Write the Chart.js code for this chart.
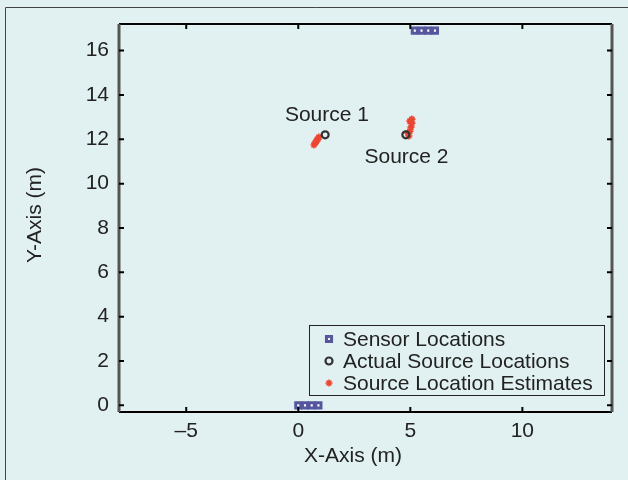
<!DOCTYPE html>
<html>
<head>
<meta charset="utf-8">
<script src="https://cdn.jsdelivr.net/npm/chart.js@4"></script>
<style>
  html, body { margin: 0; padding: 0; background: #e1f0f1; }
  #wrap { width: 628px; height: 480px; }
</style>
</head>
<body>
<div id="wrap"><canvas id="plot" width="628" height="480"></canvas></div>
<script>
// sensor array positions (m)
const sensorX = [0, 0.3, 0.6, 0.9, 5.2, 5.5, 5.8, 6.1];
const sensorY = [0, 0, 0, 0, 16.9, 16.9, 16.9, 16.9];

// true source positions
const sourceX = [1.2, 4.8];
const sourceY = [12.2, 12.2];

// estimates from the localisation runs
const estX = [0.70, 0.75, 0.79, 0.83, 0.88, 0.92, 4.89, 4.94, 4.98, 4.98, 5.03, 5.07, 5.07];
const estY = [11.74, 11.83, 11.88, 11.97, 12.01, 12.10, 12.28, 12.15, 12.37, 12.82, 12.55, 12.73, 12.91];

const xTicks = [-5, 0, 5, 10];
const yTicks = [0, 2, 4, 6, 8, 10, 12, 14, 16];

const labels = [
  { text: 'Source 1', x: 1.28, y: 13.09 },
  { text: 'Source 2', x: 4.83, y: 11.2 }
];

const FONT = '21px "Liberation Sans", Arial, sans-serif';
const INK = '#222';

const pts = (xs, ys) => xs.map((x, i) => ({ x: x, y: ys[i] }));

// axes frame, inward ticks, titles, text labels and legend, MATLAB style
const matlabFrame = {
  id: 'matlabFrame',
  beforeDraw(chart) {
    const c = chart.ctx;
    c.save();
    c.fillStyle = '#e1f0f1';
    c.fillRect(0, 0, chart.width, chart.height);
    c.strokeStyle = '#444';
    c.lineWidth = 1;
    c.beginPath();
    c.moveTo(5.5, 480); c.lineTo(5.5, 7.5); c.lineTo(628, 7.5);
    c.stroke();
    c.restore();
  },
  afterDatasetsDraw(chart) {
    const c = chart.ctx;
    const a = chart.chartArea;
    const xs = chart.scales.x, ys = chart.scales.y;
    c.save();
    // frame
    c.strokeStyle = '#000';
    c.lineWidth = 2;
    c.beginPath();
    c.moveTo(a.left, a.top); c.lineTo(a.right, a.top);
    c.moveTo(a.left, a.bottom); c.lineTo(a.right, a.bottom);
    c.stroke();
    c.strokeStyle = '#555';
    c.lineWidth = 3;
    c.beginPath();
    c.moveTo(a.left, a.top); c.lineTo(a.left, a.bottom);
    c.moveTo(a.right, a.top); c.lineTo(a.right, a.bottom);
    c.stroke();
    // ticks
    c.strokeStyle = '#000';
    c.lineWidth = 2;
    c.beginPath();
    xTicks.forEach(v => {
      const px = xs.getPixelForValue(v);
      c.moveTo(px, a.bottom); c.lineTo(px, a.bottom - 5);
      c.moveTo(px, a.top); c.lineTo(px, a.top + 5);
    });
    yTicks.forEach(v => {
      const py = ys.getPixelForValue(v);
      c.moveTo(a.left, py); c.lineTo(a.left + 5, py);
      c.moveTo(a.right, py); c.lineTo(a.right - 5, py);
    });
    c.stroke();

    c.fillStyle = INK;
    c.font = FONT;
    // tick labels
    c.textAlign = 'center';
    c.textBaseline = 'middle';
    xTicks.forEach(v => {
      const s = v < 0 ? '\u2013' + Math.abs(v) : String(v);
      c.fillText(s, xs.getPixelForValue(v), 431);
    });
    c.textAlign = 'right';
    yTicks.forEach(v => c.fillText(String(v), 109, ys.getPixelForValue(v)));
    // axis titles
    c.textAlign = 'center';
    c.fillText('X-Axis (m)', 353, 456);
    c.save();
    c.translate(35, 215);
    c.rotate(-Math.PI / 2);
    c.fillText('Y-Axis (m)', 0, 0);
    c.restore();
    // source labels
    labels.forEach(l => c.fillText(l.text, xs.getPixelForValue(l.x), ys.getPixelForValue(l.y)));

    // legend box
    c.fillStyle = '#e1f0f1';
    c.fillRect(309, 325, 295, 70);
    c.strokeStyle = '#222';
    c.lineWidth = 1;
    c.strokeRect(309.5, 325.5, 295, 70);
    const rows = [339, 361, 383];
    chart.data.datasets.forEach((ds, i) => {
      const y = rows[i];
      drawMarker(c, ds, 329, y);
      c.fillStyle = INK;
      c.textAlign = 'left';
      c.textBaseline = 'middle';
      c.font = FONT;
      c.fillText(ds.label, 343, y + 1);
    });
    c.restore();
  }
};

function drawMarker(c, ds, x, y) {
  c.save();
  c.lineWidth = ds.borderWidth;
  c.strokeStyle = ds.borderColor;
  c.fillStyle = ds.backgroundColor;
  Chart.helpers.drawPoint(c, {
    pointStyle: ds.pointStyle,
    radius: ds.pointRadius,
    borderWidth: ds.borderWidth,
    rotation: 0
  }, x, y);
  c.restore();
}

new Chart(document.getElementById('plot'), {
  type: 'scatter',
  data: {
    datasets: [
      {
        label: 'Sensor Locations',
        data: pts(sensorX, sensorY),
        pointStyle: 'rect',
        pointRadius: 3.6,
        borderWidth: 3,
        borderColor: '#55569f',
        backgroundColor: '#ffffff'
      },
      {
        label: 'Actual Source Locations',
        data: pts(sourceX, sourceY),
        pointStyle: 'circle',
        pointRadius: 3.5,
        borderWidth: 2.2,
        borderColor: '#333333',
        backgroundColor: 'rgba(0,0,0,0)'
      },
      {
        label: 'Source Location Estimates',
        data: pts(estX, estY),
        pointStyle: 'star',
        pointRadius: 3.5,
        borderWidth: 1.6,
        borderColor: '#f2432e',
        backgroundColor: '#f2432e'
      }
    ]
  },
  options: {
    responsive: false,
    animation: false,
    layout: { padding: { left: 0, top: 24, right: 16, bottom: 0 } },
    plugins: {
      legend: { display: false },
      tooltip: { enabled: false }
    },
    scales: {
      x: {
        type: 'linear',
        min: -8,
        max: 14,
        grid: { display: false },
        border: { display: false },
        ticks: { display: false },
        afterFit: s => { s.height = 68; }
      },
      y: {
        type: 'linear',
        min: -0.3,
        max: 17.2,
        grid: { display: false },
        border: { display: false },
        ticks: { display: false },
        afterFit: s => { s.width = 119; }
      }
    }
  },
  plugins: [matlabFrame]
});
</script>
</body>
</html>
